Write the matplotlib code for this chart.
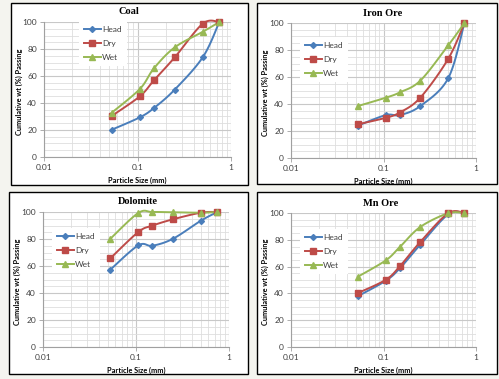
import numpy as np
import matplotlib
matplotlib.use('Agg')
import matplotlib.pyplot as plt
from matplotlib.patches import Rectangle
from matplotlib.ticker import LogLocator, MultipleLocator, FixedFormatter, FixedLocator

plt.rcParams['font.family'] = ['Lato', 'DejaVu Sans']

# particle sizes (mm)
size = [0.053, 0.106, 0.15, 0.25, 0.5, 0.75]

coal_head = [20.2, 29.4, 36.3, 49.9, 74.0, 100]
coal_dry = [30.4, 45.0, 56.8, 73.8, 98.8, 100]
coal_wet = [32.8, 50.4, 65.7, 81.2, 92.8, 100]

iron_head = [24.0, 31.8, 31.8, 38.5, 59.0, 100]
iron_dry = [25.0, 29.8, 33.7, 44.7, 73.4, 100]
iron_wet = [38.5, 44.7, 48.6, 57.3, 83.4, 100]

dolo_head = [57.3, 75.3, 75.0, 80.2, 93.6, 100]
dolo_dry = [65.7, 85.2, 89.9, 94.6, 99.5, 100]
dolo_wet = [80.2, 99.3, 100, 99.8, 99.5, 100]

mn_head = [38.0, 49.5, 58.7, 76.4, 99.0, 100]
mn_dry = [40.3, 50.2, 60.2, 78.4, 99.8, 100]
mn_wet = [52.5, 64.7, 74.6, 89.6, 99.8, 100]

series = ['Head', 'Dry', 'Wet']
colors = ['#4a7ebb', '#be4b48', '#98b954']
markers = ['D', 's', '^']
msizes = [3.0, 4.5, 4.8]

W, H = 499, 379
fig = plt.figure(figsize=(W / 100, H / 100), dpi=100, facecolor='#f4f4ef')


def fx(x):
    return x / W


def fy(y):
    return 1 - y / H


def smooth(x, y, n=20):
    # Excel-like smoothed line (Bezier through points), drawn in log-x space
    lx = np.log10(np.asarray(x, float))
    yy = np.asarray(y, float)
    P = np.column_stack([lx, yy])
    out = [P[0]]
    for i in range(len(P) - 1):
        p0 = P[i - 1] if i > 0 else P[i]
        p1, p2 = P[i], P[i + 1]
        p3 = P[i + 2] if i + 2 < len(P) else P[i + 1]
        c1 = p1 + (p2 - p0) / 6.0
        c2 = p2 - (p3 - p1) / 6.0
        t = np.linspace(0, 1, n)[1:, None]
        b = ((1 - t) ** 3) * p1 + 3 * ((1 - t) ** 2) * t * c1 + 3 * (1 - t) * t ** 2 * c2 + t ** 3 * p2
        out.extend(b)
    out = np.array(out)
    return 10 ** out[:, 0], out[:, 1]


panels = [
    ('Coal', [coal_head, coal_dry, coal_wet], (11, 3, 248, 185), (44, 22, 231, 157), (129, 12), (79, 21)),
    ('Iron Ore', [iron_head, iron_dry, iron_wet], (257, 3, 497, 184), (291, 23, 476, 158), (383, 13), (300, 37)),
    ('Dolomite', [dolo_head, dolo_dry, dolo_wet], (9, 192, 248, 374), (43, 212, 229, 347), (138, 202), (52, 228)),
    ('Mn Ore', [mn_head, mn_dry, mn_wet], (257, 192, 497, 374), (291, 213, 476, 347), (381, 203), (300, 229)),
]

for title, data, box, ax_px, tpos, lpos in panels:
    bx0, by0, bx1, by1 = box
    fig.patches.append(Rectangle((fx(bx0), fy(by1)), (bx1 - bx0) / W, (by1 - by0) / H,
                                 transform=fig.transFigure, facecolor='white',
                                 edgecolor='black', linewidth=1.0, zorder=-1))
    x0, y0, x1, y1 = ax_px
    ax = fig.add_axes([fx(x0), fy(y1), (x1 - x0) / W, (y1 - y0) / H])
    ax.set_zorder(1)
    ax.set_facecolor('white')
    ax.set_xscale('log')
    ax.set_xlim(0.01, 1)
    ax.set_ylim(0, 100)
    ax.xaxis.set_major_locator(FixedLocator([0.01, 0.1, 1]))
    ax.xaxis.set_major_formatter(FixedFormatter(['0.01', '0.1', '1']))
    ax.xaxis.set_minor_locator(LogLocator(base=10, subs=np.arange(2, 10)))
    ax.xaxis.set_minor_formatter(FixedFormatter([]))
    ax.yaxis.set_major_locator(MultipleLocator(20))
    ax.yaxis.set_minor_locator(MultipleLocator(5))
    ax.grid(True, which='major', color='#c8c8c8', linewidth=0.8)
    ax.grid(True, which='minor', color='#dedede', linewidth=0.6)
    ax.set_axisbelow(True)
    for s in ['top', 'right']:
        ax.spines[s].set_visible(False)
    for s in ['left', 'bottom']:
        ax.spines[s].set_color('#a0a0a0')
        ax.spines[s].set_linewidth(0.8)
    ax.tick_params(which='major', length=3, width=0.6, color='#a0a0a0',
                   labelsize=6, labelcolor='#404040', pad=2)
    ax.tick_params(which='minor', length=0)

    for vals, name, c, m, ms in zip(data, series, colors, markers, msizes):
        sx, sy = smooth(size, vals)
        ax.plot(sx, sy, color=c, linewidth=1.4, zorder=3, clip_on=False)
        ax.plot(size, vals, linestyle='none', marker=m, markersize=ms, color=c, zorder=4, clip_on=False)

    handles = [plt.Line2D([], [], color=c, marker=m, markersize=ms, linewidth=1.4)
               for c, m, ms in zip(colors, markers, msizes)]
    leg = ax.legend(handles, series, loc='upper left',
                    bbox_to_anchor=(fx(lpos[0]), fy(lpos[1])), bbox_transform=fig.transFigure,
                    fontsize=6, frameon=True, fancybox=False, framealpha=1,
                    handlelength=2.0, handletextpad=0.15, labelspacing=0.85,
                    borderpad=0.6, borderaxespad=0)
    leg.get_frame().set_edgecolor('none')
    leg.get_frame().set_facecolor('white')
    for t in leg.get_texts():
        t.set_color('#404040')

    fig.text(fx(tpos[0]), fy(tpos[1]), title, ha='center', va='center',
             fontsize=7.5, fontweight='bold', family='Liberation Serif')
    fig.text(fx((x0 + x1) / 2), fy(y1 + 23), 'Particle Size (mm)', ha='center', va='center',
             fontsize=5.3, fontweight='bold')
    fig.text(fx(bx0 + 8), fy((y0 + y1) / 2 + 2), 'Cumulative wt (%) Passing', ha='center',
             va='center', rotation=90, fontsize=5.3, fontweight='bold')

fig.savefig('out.png', dpi=100, facecolor=fig.get_facecolor())
